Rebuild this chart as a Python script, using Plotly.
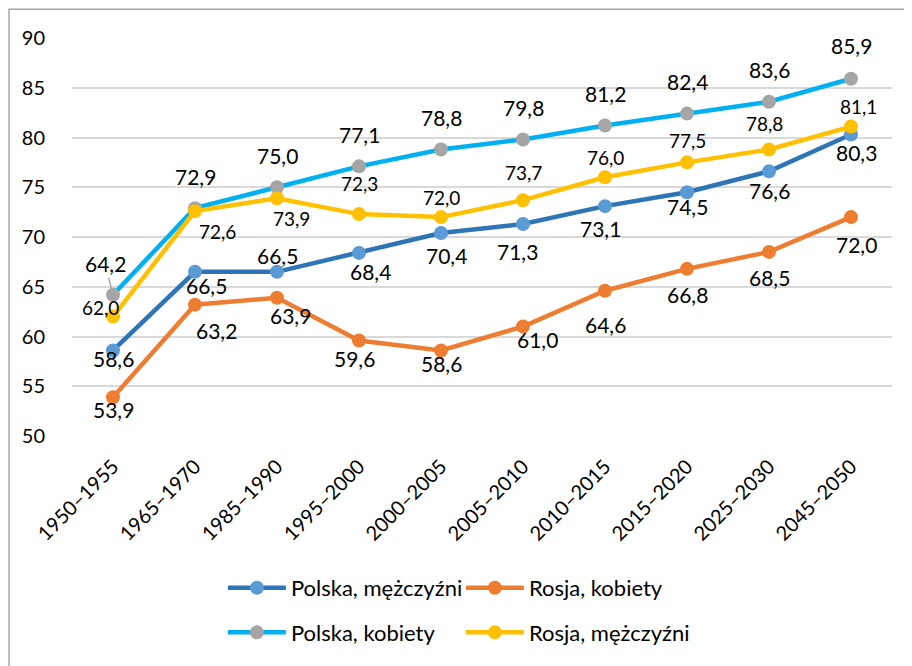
import plotly.graph_objects as go

categories = ["1950–1955", "1965–1970", "1985–1990", "1995–2000", "2000–2005",
              "2005–2010", "2010–2015", "2015–2020", "2025–2030", "2045–2050"]

polska_m = [58.6, 66.5, 66.5, 68.4, 70.4, 71.3, 73.1, 74.5, 76.6, 80.3]
rosja_k = [53.9, 63.2, 63.9, 59.6, 58.6, 61.0, 64.6, 66.8, 68.5, 72.0]
polska_k = [64.2, 72.9, 75.0, 77.1, 78.8, 79.8, 81.2, 82.4, 83.6, 85.9]
rosja_m = [62.0, 72.6, 73.9, 72.3, 72.0, 73.7, 76.0, 77.5, 78.8, 81.1]

series_names = ["Polska, mężczyźni", "Rosja, kobiety", "Polska, kobiety", "Rosja, mężczyźni"]

# label offsets in pixels (dx right, dy down) - styling only
off_polska_m = [(0, 8), (11, 14), (0, -16), (11, 19), (5, 22), (-6, 27), (-5, 22), (0, 14), (0, 19), (5, 18)]
off_rosja_k = [(0, 12), (21, 26), (13, 18), (-5, 18), (0, 13), (14, 13), (0, 34), (0, 26), (0, 26), (5, 27)]
off_polska_k = [(-8, -31), (0, -32), (0, -32), (0, -32), (0, -32), (0, -32), (0, -32), (0, -32), (0, -32), (0, -33)]
off_rosja_m = [(-13, -9), (22, 20), (14, 20), (0, -31), (0, -20), (0, -28), (0, -20), (0, -22), (-5, -26), (7, -20)]

FONT = "Lato"
line_colors = ["#2E75B6", "#ED7D31", "#00B0F0", "#FFC000"]
marker_colors = ["#5B9BD5", "#ED7D31", "#A5A5A5", "#FFC000"]
label_sizes = [21, 21, 21, 19]
legends = ["legend", "legend", "legend2", "legend2"]

all_values = [polska_m, rosja_k, polska_k, rosja_m]
all_offsets = [off_polska_m, off_rosja_k, off_polska_k, off_rosja_m]
leader = {(2, 0)}  # (series index, point index) labels with leader line

def fmt(v):
    return f"{v:.1f}".replace(".", ",")

fig = go.Figure()
for s, vals in enumerate(all_values):
    fig.add_trace(go.Scatter(
        x=categories, y=vals, name=series_names[s], mode="lines+markers",
        line=dict(color=line_colors[s], width=4.5),
        marker=dict(color=marker_colors[s], size=14, line=dict(width=0)),
        legend=legends[s], hoverinfo="skip",
    ))

annotations = []
for s, vals in enumerate(all_values):
    for i, v in enumerate(vals):
        dx, dy = all_offsets[s][i]
        if (s, i) in leader:
            annotations.append(dict(
                x=categories[i], y=v, text=fmt(v), showarrow=True, ax=dx, ay=dy,
                arrowhead=0, arrowcolor="#A5A5A5", arrowwidth=1.5, standoff=7,
                font=dict(family=FONT, size=label_sizes[s], color="#000000"),
            ))
        else:
            annotations.append(dict(
                x=categories[i], y=v, text=fmt(v), showarrow=False,
                xshift=dx, yshift=-dy,
                font=dict(family=FONT, size=label_sizes[s], color="#000000"),
            ))

legend_style = dict(orientation="h", x=0.184, xanchor="left", yanchor="middle",
                    itemwidth=58, entrywidth=165, font=dict(size=22),
                    bgcolor="rgba(0,0,0,0)", itemclick=False, itemdoubleclick=False)

fig.update_layout(
    width=904, height=658,
    margin=dict(l=64, r=20, t=30, b=227),
    paper_bgcolor="white", plot_bgcolor="white",
    font=dict(family=FONT, size=20, color="#000000"),
    annotations=annotations,
    xaxis=dict(type="category", range=[-0.5, 9.5], showgrid=False, zeroline=False,
               tickangle=-45, tickfont=dict(size=20), ticks="", showline=False,
               ticklabelstandoff=14),
    yaxis=dict(range=[50, 90], dtick=5, showgrid=True, gridcolor="#D9D9D9", gridwidth=2,
               zeroline=False, showline=False, ticks="", tickfont=dict(size=20),
               ticklabelstandoff=26),
    legend=dict(legend_style, y=-0.3816),
    legend2=dict(legend_style, y=-0.4938),
    shapes=[dict(type="rect", xref="paper", yref="paper",
                 x0=-0.0768, x1=1.03, y0=-0.58, y1=1.0723,
                 line=dict(color="#A6A6A6", width=1.5), fillcolor="rgba(0,0,0,0)", layer="below")],
)

fig.write_html("out.html")
